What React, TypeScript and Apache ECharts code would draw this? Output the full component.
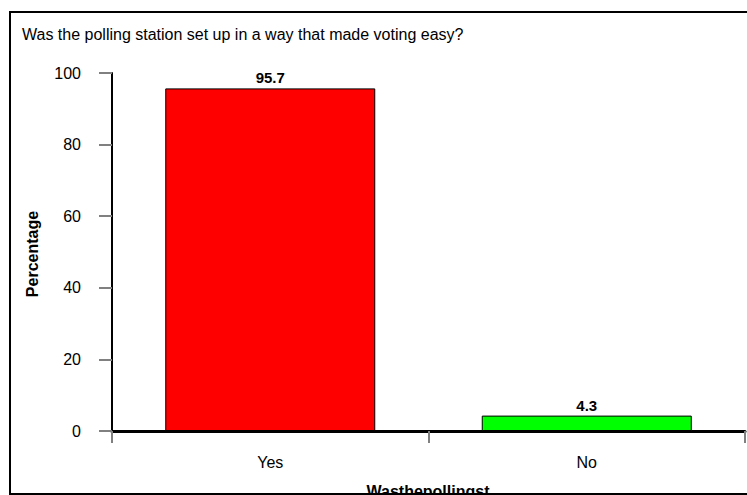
import React, { useEffect, useRef } from "react";
import * as echarts from "echarts";

const categories = ["Yes", "No"];
const values = [95.7, 4.3];
const barColors = ["#ff0000", "#00ff00"];
const titleText = "Was the polling station set up in a way that made voting easy?";
const yAxisName = "Percentage";
const xAxisName = "Wasthepollingst";

const FONT = "Arial, 'Liberation Sans', sans-serif";

export default function App() {
  const ref = useRef<HTMLDivElement>(null);
  useEffect(() => {
    document.body.style.margin = "0";
    const chart = echarts.init(ref.current!, undefined, { renderer: "svg" });
    chart.setOption({
      animation: false,
      backgroundColor: "#ffffff",
      grid: { left: 112, right: 2, top: 73, bottom: 64 },
      xAxis: {
        type: "category",
        data: categories,
        axisLine: { show: true, lineStyle: { color: "#000", width: 3 } },
        axisTick: { show: true, length: 12, lineStyle: { color: "#808080", width: 2 } },
        axisLabel: { color: "#000", fontSize: 16, fontFamily: FONT, margin: 23 },
      },
      yAxis: {
        type: "value",
        min: 0,
        max: 100,
        interval: 20,
        splitLine: { show: false },
        axisLine: { show: true, lineStyle: { color: "#000", width: 2 } },
        axisTick: { show: true, length: 13, lineStyle: { color: "#808080", width: 2 } },
        axisLabel: { color: "#000", fontSize: 16, fontFamily: FONT, margin: 31 },
      },
      series: [
        {
          type: "bar",
          barWidth: 210,
          data: values.map((v, i) => ({
            value: v,
            itemStyle: { color: barColors[i], borderColor: "#000", borderWidth: 1 },
          })),
          label: {
            show: true,
            position: "top",
            distance: 3,
            color: "#000",
            fontWeight: "bold",
            fontSize: 15,
            fontFamily: FONT,
          },
        },
      ],
      graphic: [
        {
          type: "rect",
          shape: { x: 10, y: 12, width: 760, height: 482 },
          style: { fill: "none", stroke: "#000", lineWidth: 2 },
          z: 100,
        },
        {
          type: "text",
          x: 22,
          y: 34,
          style: {
            text: titleText,
            fontSize: 16,
            fontFamily: FONT,
            fill: "#000",
            textVerticalAlign: "middle",
          },
        },
        {
          type: "text",
          x: 32,
          y: 254,
          rotation: Math.PI / 2,
          style: {
            text: yAxisName,
            fontSize: 16,
            fontWeight: "bold",
            fontFamily: FONT,
            fill: "#000",
            textAlign: "center",
            textVerticalAlign: "middle",
          },
        },
        {
          type: "text",
          x: 428,
          y: 483,
          style: {
            text: xAxisName,
            fontSize: 16,
            fontWeight: "bold",
            fontFamily: FONT,
            fill: "#000",
            textAlign: "center",
            textVerticalAlign: "top",
          },
        },
      ],
    });
    return () => chart.dispose();
  }, []);
  return <div ref={ref} style={{ width: 747, height: 495 }} />;
}
